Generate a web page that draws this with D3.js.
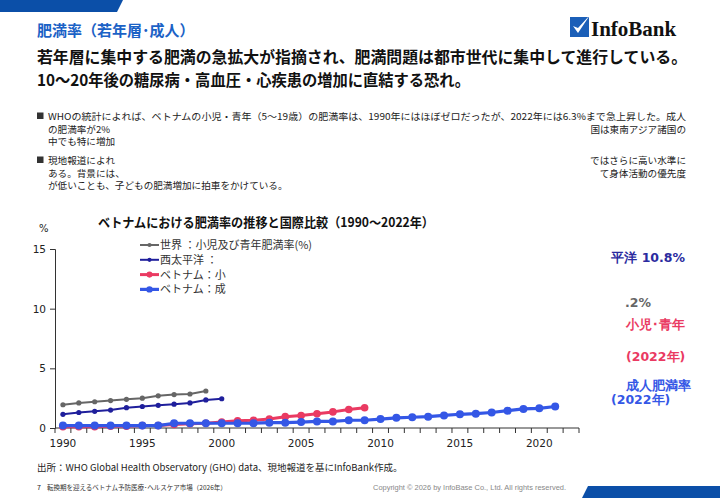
<!DOCTYPE html>
<html>
<head>
<meta charset="utf-8">
<script src="https://cdn.jsdelivr.net/npm/d3@7"></script>
<style>
  body { margin: 0; background: #fff; }
  svg { display: block; }
</style>
</head>
<body>
<div class="chart_container"></div>
<script>
// years on the category axis
var years = d3.range(1990, 2023);

// values (only the part that is visible)
var worldYears = d3.range(1990, 2000);
var worldRate = [1.95, 2.1, 2.2, 2.3, 2.4, 2.5, 2.7, 2.8, 2.85, 3.1];

var wpYears = d3.range(1990, 2001);
var wpRate = [1.15, 1.3, 1.4, 1.5, 1.7, 1.8, 1.9, 2.0, 2.1, 2.35, 2.45];

var vnChildYears = d3.range(1990, 2010);
var vnChildRate = [0.1, 0.1, 0.1, 0.15, 0.15, 0.2, 0.2, 0.3, 0.35, 0.4,
                   0.5, 0.6, 0.65, 0.75, 0.95, 1.05, 1.2, 1.35, 1.55, 1.7];

var vnAdultYears = d3.range(1990, 2022);
var vnAdultRate = [0.2, 0.2, 0.2, 0.2, 0.2, 0.2, 0.2, 0.4, 0.4, 0.4,
                   0.4, 0.4, 0.4, 0.45, 0.45, 0.5, 0.55, 0.55, 0.65, 0.65,
                   0.75, 0.85, 0.9, 0.95, 1.05, 1.15, 1.2, 1.3, 1.45, 1.6,
                   1.65, 1.8];

var yTicks = [0, 5, 10, 15];
var xLabelYears = [1990, 1995, 2000, 2005, 2010, 2015, 2020];

var legendLabels = ["世界 ：小児及び青年肥満率(%)", "西太平洋 ：", "ベトナム：小", "ベトナム：成"];

var series = [
  {years: worldYears, values: worldRate, color: "#666666", width: 2, r: 2.6},
  {years: wpYears, values: wpRate, color: "#1f1f9c", width: 2, r: 2.6},
  {years: vnChildYears, values: vnChildRate, color: "#ea3a62", width: 3, r: 3.8},
  {years: vnAdultYears, values: vnAdultRate, color: "#3457e6", width: 3.2, r: 4}
];

var jp = "'Noto Sans CJK JP', 'Noto Sans', sans-serif";
var vd = "'DejaVu Sans', Verdana, sans-serif";

var svg = d3.select(".chart_container").append("svg")
    .attr("width", 720)
    .attr("height", 498);

// decorative bands
svg.append("path").attr("d", "M0,0 L123,0 L117,12 L0,12 Z").attr("fill", "#0b4fa8");
svg.append("path").attr("d", "M588,486 L720,486 L720,498 L582,498 Z").attr("fill", "#0b4fa8");

// page title
svg.append("text")
    .attr("x", 37).attr("y", 36)
    .style("font-family", jp).style("font-size", "15px").style("font-weight", "bold")
    .style("fill", "#1b62c6")
    .text("肥満率（若年層･成人）");

// logo
var logo = svg.append("g").attr("transform", "translate(570,17)");
logo.append("rect").attr("width", 19).attr("height", 20).attr("fill", "#1b5fb8");
logo.append("path").attr("d", "M3,9 L8,16 L20,-2 L8,11 Z").attr("fill", "#fff");
logo.append("text")
    .attr("x", 21).attr("y", 19)
    .style("font-family", "'Liberation Serif', serif").style("font-size", "21px").style("font-weight", "bold")
    .style("fill", "#111")
    .text("InfoBank");

// headline
svg.append("text")
    .attr("x", 37).attr("y", 63)
    .attr("textLength", 650).attr("lengthAdjust", "spacingAndGlyphs")
    .style("font-family", jp).style("font-size", "16px").style("font-weight", "bold")
    .style("fill", "#111")
    .text("若年層に集中する肥満の急拡大が指摘され、肥満問題は都市世代に集中して進行している。");
svg.append("text")
    .attr("x", 37).attr("y", 86)
    .attr("textLength", 433).attr("lengthAdjust", "spacingAndGlyphs")
    .style("font-family", jp).style("font-size", "16px").style("font-weight", "bold")
    .style("fill", "#111")
    .text("10～20年後の糖尿病・高血圧・心疾患の増加に直結する恐れ。");

// bullet text
var body = svg.append("g")
    .style("font-family", jp).style("font-size", "9.6px").style("fill", "#222");
[[37, 112.5], [37, 156.5]].forEach(function(b) {
  body.append("rect").attr("x", b[0]).attr("y", b[1]).attr("width", 6.5).attr("height", 6.5).attr("fill", "#333");
});
body.append("text").attr("x", 48).attr("y", 120)
    .attr("textLength", 638).attr("lengthAdjust", "spacingAndGlyphs")
    .text("WHOの統計によれば、ベトナムの小児・青年（5～19歳）の肥満率は、1990年にはほぼゼロだったが、2022年には6.3%まで急上昇した。成人");
body.append("text").attr("x", 48).attr("y", 132.5).text("の肥満率が2%");
body.append("text").attr("x", 686).attr("y", 132.5).attr("text-anchor", "end").text("国は東南アジア諸国の");
body.append("text").attr("x", 48).attr("y", 145).text("中でも特に増加");
body.append("text").attr("x", 48).attr("y", 164).text("現地報道によれ");
body.append("text").attr("x", 686).attr("y", 164).attr("text-anchor", "end").text("ではさらに高い水準に");
body.append("text").attr("x", 48).attr("y", 176.5).text("ある。背景には、");
body.append("text").attr("x", 686).attr("y", 176.5).attr("text-anchor", "end").text("て身体活動の優先度");
body.append("text").attr("x", 48).attr("y", 189).text("が低いことも、子どもの肥満増加に拍車をかけている。");

// chart title
svg.append("text")
    .attr("x", 98).attr("y", 227)
    .attr("textLength", 336).attr("lengthAdjust", "spacingAndGlyphs")
    .style("font-family", jp).style("font-size", "13px").style("font-weight", "bold")
    .style("fill", "#111")
    .text("ベトナムにおける肥満率の推移と国際比較（1990～2022年）");

svg.append("text")
    .attr("x", 39).attr("y", 232)
    .style("font-family", vd).style("font-size", "10px").style("fill", "#222")
    .text("%");

// scales
var x = d3.scaleBand().domain(years).range([55, 579]);
var y = d3.scaleLinear().domain([0, 15]).range([428, 249]);
var cx = function(yr) { return x(yr) + x.bandwidth() / 2; };

// y axis
var yAxis = svg.append("g")
    .attr("transform", "translate(55,0)")
    .call(d3.axisLeft(y).tickValues(yTicks).tickSize(5).tickPadding(4));
yAxis.select(".domain").attr("stroke", "#333");
yAxis.selectAll(".tick line").attr("stroke", "#333");
yAxis.selectAll("text").style("font-family", vd).style("font-size", "10.5px").style("fill", "#222");

// x axis: ticks on band edges, labels every 5 years
var xg = svg.append("g").attr("transform", "translate(0,428)");
xg.append("line").attr("x1", 55).attr("x2", 579).attr("stroke", "#333");
xg.selectAll("line.edge")
  .data(years.concat([2023]))
  .enter().append("line")
    .attr("class", "edge")
    .attr("x1", function(d) { return d === 2023 ? 579 : x(d); })
    .attr("x2", function(d) { return d === 2023 ? 579 : x(d); })
    .attr("y1", 0).attr("y2", 5)
    .attr("stroke", "#333");
xg.selectAll("text")
  .data(xLabelYears)
  .enter().append("text")
    .attr("x", cx)
    .attr("y", 19)
    .attr("text-anchor", "middle")
    .style("font-family", vd).style("font-size", "10.5px").style("fill", "#222")
    .text(function(d) { return d; });

// lines
var line = d3.line()
    .x(function(d) { return cx(d[0]); })
    .y(function(d) { return y(d[1]); });

series.forEach(function(s) {
  var pts = s.years.map(function(yr, i) { return [yr, s.values[i]]; });
  var g = svg.append("g");
  g.append("path")
      .datum(pts)
      .attr("d", line)
      .attr("fill", "none")
      .attr("stroke", s.color)
      .attr("stroke-width", s.width)
      .attr("stroke-linejoin", "round");
  g.selectAll("circle")
    .data(pts)
    .enter().append("circle")
      .attr("cx", function(d) { return cx(d[0]); })
      .attr("cy", function(d) { return y(d[1]); })
      .attr("r", s.r)
      .attr("fill", s.color);
});

// legend
var legend = svg.append("g");
series.forEach(function(s, i) {
  var ly = 245 + i * 14.8;
  legend.append("line")
      .attr("x1", 140).attr("x2", 159).attr("y1", ly).attr("y2", ly)
      .attr("stroke", s.color).attr("stroke-width", s.width);
  legend.append("circle").attr("cx", 149.5).attr("cy", ly).attr("r", s.r * 0.8).attr("fill", s.color);
  legend.append("text")
      .attr("x", 160).attr("y", ly + 4)
      .style("font-family", jp).style("font-size", "11px").style("fill", "#333")
      .text(legendLabels[i]);
});

// end annotations (visible fragments)
var notes = [
  {x: 685, y: 262, anchor: "end", text: "平洋 10.8%", color: "#2b2ba0"},
  {x: 651, y: 307, anchor: "end", text: ".2%", color: "#666666"},
  {x: 685, y: 329, anchor: "end", text: "小児･青年", color: "#ea3a62"},
  {x: 626, y: 361, anchor: "start", text: "(2022年)", color: "#ea3a62"},
  {x: 626, y: 390, anchor: "start", text: "成人肥満率", color: "#3457e6"},
  {x: 611, y: 404, anchor: "start", text: "(2022年)", color: "#3457e6"}
];
svg.append("g").selectAll("text")
  .data(notes)
  .enter().append("text")
    .attr("x", function(d) { return d.x; })
    .attr("y", function(d) { return d.y; })
    .attr("text-anchor", function(d) { return d.anchor; })
    .style("font-family", vd).style("font-size", "12.5px").style("font-weight", "bold")
    .style("fill", function(d) { return d.color; })
    .text(function(d) { return d.text; });

// source and footer
svg.append("text")
    .attr("x", 37).attr("y", 471)
    .style("font-family", jp).style("font-size", "9.5px").style("fill", "#222")
    .text("出所：WHO Global Health Observatory (GHO) data、現地報道を基にInfoBank作成。");
svg.append("text")
    .attr("x", 37).attr("y", 490)
    .style("font-family", jp).style("font-size", "7px").style("fill", "#222")
    .text("7");
svg.append("text")
    .attr("x", 47).attr("y", 490)
    .style("font-family", jp).style("font-size", "6.5px").style("fill", "#333")
    .text("転換期を迎えるベトナム予防医療･ヘルスケア市場（2026年）");
svg.append("text")
    .attr("x", 373).attr("y", 490)
    .attr("textLength", 193).attr("lengthAdjust", "spacingAndGlyphs")
    .style("font-family", "'Liberation Sans', Arial, sans-serif").style("font-size", "6.5px").style("fill", "#888")
    .text("Copyright © 2026 by InfoBase Co., Ltd. All rights reserved.");
</script>
</body>
</html>
